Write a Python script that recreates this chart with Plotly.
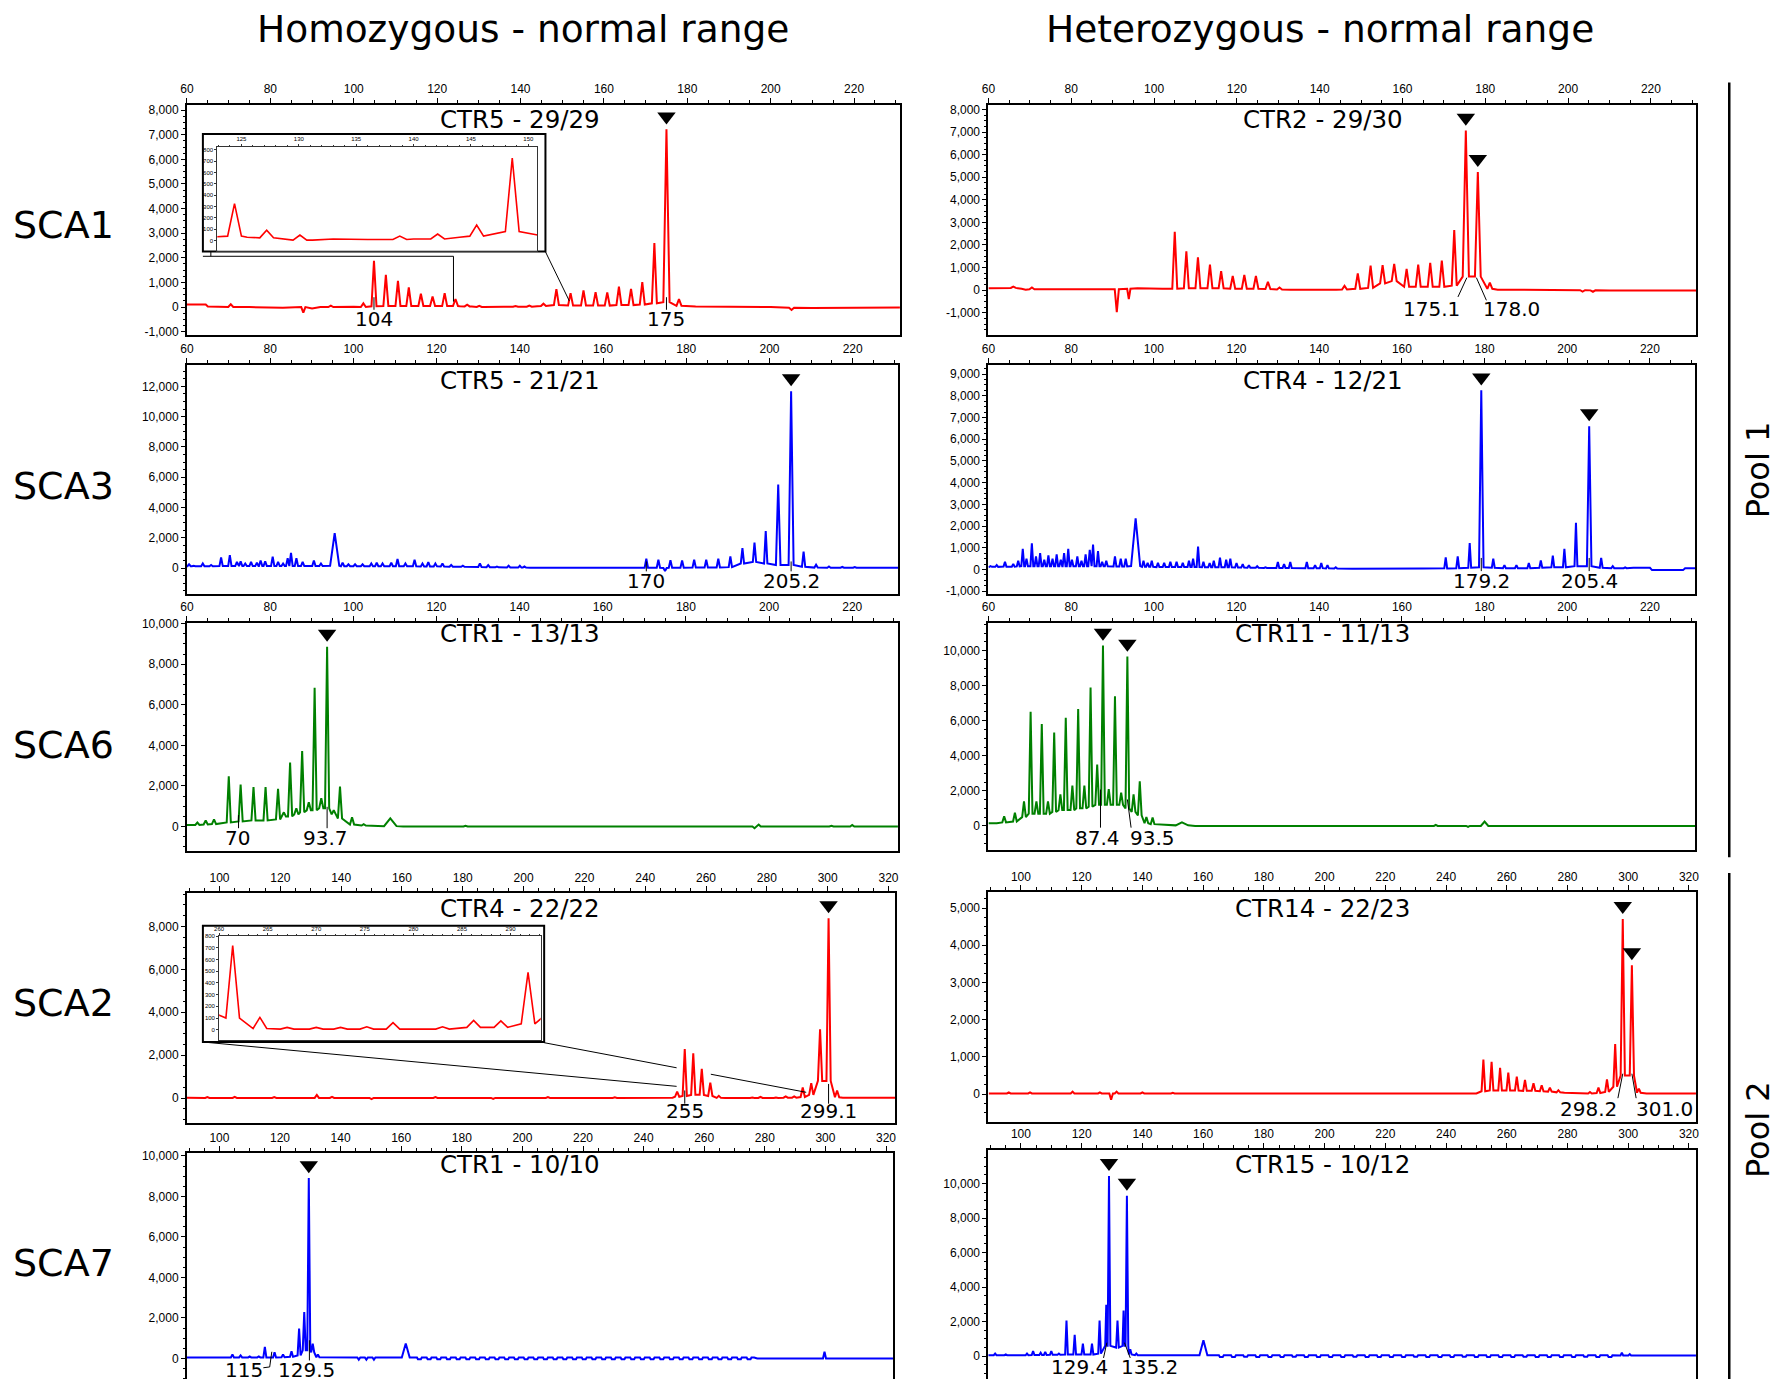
import plotly.graph_objects as go

W, H = 1777, 1384
def fx(p): return p / W
def fy(p): return 1 - p / H

RED, BLUE, GREEN = '#ff0000', '#0000ff', '#008000'

# ------------------------------------------------------------------ DATA
col_titles = ["Homozygous - normal range", "Heterozygous - normal range"]
loci = ["SCA1", "SCA3", "SCA6", "SCA2", "SCA7"]
pools = ["Pool 1", "Pool 2"]

# SCA1 homozygous  CTR5 - 29/29
sca1_hom_pos = [70.5, 87.9, 94.5, 102.3, 104.85, 107.7, 110.6, 113.2, 116.1, 118.9, 121.8, 124.4, 127.2, 130.1,
                138.8, 142.1, 145.5, 148.6, 152.0, 155.1, 158.0, 160.8, 163.6, 166.5, 169.2, 172.1, 175.0, 178.0, 205.0]
sca1_hom_rfu = [110, -230, 60, 150, 1883, 1305, 1063, 794, 538, 430, 565, 326, 93, 49,
                40, 58, 137, 727, 565, 672, 605, 592, 834, 740, 1009, 2596, 7222, 323, -120]
sca1_hom_floor = [0, 0, 0, 0, 30, 40, 40, 40, 40, 40, 40, 40, 25, 5,
                  10, 15, 40, 80, 60, 60, 60, 60, 80, 80, 100, 150, 200, 50, -30]
sca1_hom_base_x = [60, 64.5, 65, 75, 83, 90, 92, 100, 122.9, 125.5, 128.3, 131.2, 133, 136, 140, 144, 150.8, 182, 200, 210, 231]
sca1_hom_base_y = [100, 100, 20, 0, -30, -60, 0, 10, 35, 30, 20, 5, 15, 10, 15, 30, 50, 20, 0, -40, -20]

# SCA1 heterozygous  CTR2 - 29/30
sca1_het_pos = [66.0, 70.5, 91.0, 93.9, 105.0, 107.8, 110.6, 113.5, 116.2, 119.0, 121.8, 124.6, 127.5, 130.3, 146.0,
                149.2, 152.3, 155.2, 158.0, 161.0, 163.8, 166.7, 169.5, 172.5, 175.3, 178.2, 181.1, 203.5, 206.0]
sca1_het_rfu = [160, 120, -975, -393, 2589, 1716, 1454, 1134, 843, 625, 669, 625, 364, 116, 190,
                742, 1090, 1105, 1163, 945, 1134, 1207, 1309, 2662, 7069, 5236, 334, -60, -70]
sca1_het_floor = [100, 40, 40, 60, 60, 80, 80, 80, 80, 60, 60, 60, 50, 30, 30,
                  60, 100, 300, 400, 150, 150, 150, 150, 200, 600, 600, 60, 0, -10]
sca1_het_base_x = [60, 64, 68, 69, 88, 96, 102, 133, 144, 183, 200, 209, 210, 231]
sca1_het_base_y = [80, 100, 60, 20, 40, 80, 60, 20, 20, 20, 0, -40, -20, -20]

# SCA3 homozygous  CTR5 - 21/21
sca3_hom_pos = [60.5, 61.6, 63.8, 65.8, 68.2, 70.3, 72.0, 72.9, 74.0, 75.4, 76.8, 77.7, 78.8, 80.6, 81.9, 83.1,
                84.2, 85.0, 86.3, 87.8, 90.5, 92.2, 95.5, 97.4, 98.8, 100.4, 102.2, 104.3, 105.6, 107.0, 109.1,
                110.6, 112.5, 114.7, 116.6, 118.0, 119.7, 121.4, 123.5, 126.3, 130.4, 132.4, 134.5, 137.3, 140.0,
                141.1, 170.4, 173.3, 174.9, 176.2, 179.0, 181.9, 184.8, 187.7, 190.6, 193.5, 196.4, 199.1, 202.1,
                205.2, 208.2, 211.2, 214.3, 217.5, 220.5]
sca3_hom_rfu = [250, 150, 300, 200, 700, 850, 400, 450, 300, 400, 350, 500, 450, 750, 400, 300,
                650, 1000, 650, 400, 500, 300, 2300, 350, 250, 250, 250, 300, 350, 300, 350,
                600, 300, 550, 300, 400, 300, 300, 200, 150, 300, 200, 100, 150, 150,
                100, 611, 545, -200, 524, 502, 545, 545, 611, 764, 1309, 1680, 2444, 5520,
                11674, 1091, 218, 100, 80, 70]
sca3_hom_floor = [120, 120, 120, 120, 130, 130, 130, 130, 130, 130, 130, 130, 130, 130, 130, 130,
                  130, 130, 130, 130, 130, 130, 150, 120, 120, 120, 120, 120, 120, 120, 120,
                  120, 120, 120, 110, 110, 110, 100, 90, 80, 70, 60, 50, 40, 30,
                  30, 20, 20, 0, 20, 20, 30, 30, 40, 60, 300, 400, 300, 200,
                  200, 80, 30, 20, 20, 20]
sca3_hom_base_x = [60, 142.5, 169, 222, 231]
sca3_hom_base_y = [120, 20, 20, 20, 20]

# SCA3 heterozygous  CTR4 - 12/21
sca3_het_pos = [60.5, 62.0, 64.0, 66.0, 67.2, 68.3, 69.2, 70.5, 71.5, 72.5, 73.5, 74.5, 75.5, 76.5, 77.5, 78.3,
                79.3, 80.2, 81.5, 82.5, 83.5, 84.5, 85.3, 86.5, 87.5, 88.5, 90.6, 92.0, 93.2, 95.6, 97.5,
                98.5, 99.5, 101.0, 102.5, 104.0, 105.5, 107.0, 108.5, 109.5, 110.7, 112.0, 113.5, 114.5,
                116.0, 117.5, 118.5, 120.0, 121.5, 123.0, 125.0, 127.0, 130.0, 131.5, 133.0, 137.0, 139.0,
                140.5, 142.0, 144.0, 147.0,
                170.6, 173.5, 176.4, 179.2, 182.1, 184.8, 187.7, 190.7, 193.6, 196.5, 199.3, 202.1, 205.3,
                208.2, 211.0, 214.0]
sca3_het_rfu = [150, 200, 350, 250, 400, 950, 500, 1200, 600, 750, 450, 650, 500, 700, 450, 750,
                950, 450, 600, 400, 700, 900, 1150, 850, 350, 400, 600, 500, 500, 2350, 400,
                300, 400, 300, 300, 350, 350, 300, 400, 500, 1050, 350, 300, 400,
                550, 450, 500, 300, 250, 200, 150, 100, 350, 250, 350, 350, 200,
                300, 200, 100, 50,
                562, 607, 1214, 8250, 501, 200, 200, 300, 410, 637, 956, 2150, 6600,
                531, 150, 100]
sca3_het_floor = [120, 120, 130, 130, 140, 150, 150, 150, 150, 150, 150, 150, 150, 150, 150, 150,
                  150, 150, 150, 150, 150, 150, 150, 150, 150, 150, 140, 140, 140, 160, 120,
                  120, 120, 110, 110, 110, 110, 110, 110, 110, 110, 100, 100, 100,
                  100, 100, 100, 90, 90, 80, 80, 70, 70, 70, 70, 60, 60,
                  60, 50, 40, 30,
                  50, 60, 80, 100, 80, 60, 60, 60, 80, 100, 100, 150, 150,
                  80, 60, 60]
sca3_het_base_x = [60, 148, 165, 216, 220, 220.5, 228, 228.5, 231]
sca3_het_base_y = [100, 30, 40, 80, 80, -30, -30, 60, 60]

# SCA6 homozygous  CTR1 - 13/13
sca6_hom_pos = [62.5, 64.5, 66.5, 70.05, 72.9, 76.0, 78.9, 81.9, 83.3, 84.8, 86.3, 87.7, 89.3, 90.7, 92.3, 93.7,
                95.3, 96.8, 99.7, 102.5, 108.9, 127.0, 196.5, 197.5, 215.0, 220.0]
sca6_hom_rfu = [200, 300, 350, 2479, 2074, 1944, 1944, 1863, 700, 3159, 900, 3726, 1200, 6836, 1400, 8861,
                800, 1976, 454, 120, 405, 40, -80, 100, 40, 80]
sca6_hom_floor = [80, 100, 120, 200, 250, 300, 300, 350, 500, 500, 600, 700, 800, 800, 900, 900,
                  600, 400, 100, 50, 20, 0, 0, 0, 0, 0]
sca6_hom_base_x = [60, 61.5, 112, 231]
sca6_hom_base_y = [80, 80, 0, 0]

# SCA6 heterozygous  CTR11 - 11/13
sca6_het_pos = [63.8, 66.4, 68.6, 70.2, 71.6, 72.9, 74.4, 75.9, 77.4, 78.7, 80.3, 81.7, 83.2, 84.7, 86.3, 87.7,
                89.1, 90.6, 92.1, 93.6, 95.1, 96.6, 98.2, 99.7, 106.8, 168.2, 176.0, 180.0]
sca6_het_rfu = [550, 750, 1400, 6510, 1400, 5812, 1400, 5321, 1800, 6170, 2300, 6661, 2300, 7888, 3500, 10284,
                2100, 7397, 1900, 9661, 1800, 2547, 500, 472, 200, 60, -60, 250]
sca6_het_floor = [200, 250, 500, 700, 700, 700, 700, 800, 900, 900, 900, 1000, 1000, 1100, 1200, 1200,
                  1200, 1200, 1200, 1000, 800, 600, 150, 100, 30, 0, 0, 0]
sca6_het_base_x = [60, 62, 110, 231]
sca6_het_base_y = [150, 150, 0, 0]

# SCA2 homozygous  CTR4 - 22/22
sca2_hom_pos = [96, 105, 118, 132, 137, 150, 171, 190, 208, 230, 250.5, 253.0, 255.8, 258.6, 261.4, 264.2,
                267.0, 270.0, 272.5, 275.2, 277.9, 283.0, 286.2, 289.0, 291.8, 294.6, 297.5, 300.3, 303.1]
sca2_hom_rfu = [50, 60, 50, 150, 60, -50, 50, -40, 50, 40, 300, 2285, 2084, 1359, 720, 105,
                20, 20, 20, 25, 60, 25, 80, 75, 490, 700, 3211, 8383, 355]
sca2_hom_floor = [10, 10, 10, 10, 10, 10, 10, 10, 10, 10, 60, 100, 150, 150, 100, 10,
                  5, 5, 5, 5, 5, 5, 20, 20, 50, 150, 800, 800, 40]
sca2_hom_base_x = [89.3, 249, 305, 322.3]
sca2_hom_base_y = [20, 20, 20, 20]

# SCA2 heterozygous  CTR14 - 22/23
sca2_het_pos = [96, 103, 115, 117, 126, 129.7, 131.5, 140, 150, 165, 180, 200, 214, 222, 252.3, 255.0, 257.8,
                260.5, 263.3, 266.0, 268.8, 271.5, 274.2, 277.0, 287.4, 290.2, 293.0, 295.7, 298.2, 301.2, 303.5]
sca2_het_rfu = [50, 50, 40, 70, 50, -150, 70, 50, 40, 40, 40, 40, 40, 40, 932, 870, 710,
                577, 470, 382, 293, 240, 178, 107, 60, 178, 400, 1350, 4707, 3463, 150]
sca2_het_floor = [20, 20, 20, 20, 20, 20, 20, 20, 20, 20, 20, 20, 20, 20, 80, 100, 100,
                  100, 100, 90, 90, 80, 70, 50, 20, 30, 60, 200, 500, 500, 40]
sca2_het_base_x = [89.4, 250, 279, 285, 306, 322.4]
sca2_het_base_y = [20, 20, 40, 20, 20, 20]

# SCA7 homozygous  CTR1 - 10/10
sca7_hom_pos = [98.2, 104.3, 107.0, 110.0, 113.0, 115.0, 118.2, 121.0, 123.8, 126.3, 128.0, 129.5, 130.8, 132.5,
                146.0, 148.5, 151.0, 161.5, 299.7]
sca7_hom_rfu = [80, 200, 150, 100, 100, 572, 300, 200, 350, 1470, 2288, 8905, 735, 200,
                -60, -60, -60, 735, 327]
sca7_hom_floor = [50, 50, 50, 50, 50, 50, 50, 60, 80, 150, 400, 400, 300, 60,
                  50, 50, 50, 50, 0]
sca7_hom_dip_pos = [166.0, 169.2, 172.4, 175.6, 178.8, 182.0, 185.2, 188.4, 191.6, 194.8, 198.0, 201.2, 204.4,
                    207.6, 210.8, 214.0, 217.2, 220.4, 223.6, 226.8, 230.0, 233.2, 236.4, 239.6, 242.8, 246.0,
                    249.2, 252.4, 255.6, 258.8, 262.0, 265.2, 268.4, 271.6, 274.8]
sca7_hom_dip_rfu = [-40, -40, -45, -40, -40, -45, -40, -40, -40, -45, -40, -40, -40,
                    -45, -40, -40, -40, -45, -40, -40, -40, -40, -45, -40, -40, -40,
                    -45, -40, -40, -40, -40, -45, -40, -40, -40]
sca7_hom_base_x = [89.3, 276.5, 277.5, 322.3]
sca7_hom_base_y = [50, 50, 0, 0]

# SCA7 heterozygous  CTR15 - 10/12
sca7_het_pos = [91.5, 95.0, 99.0, 102.0, 104.0, 106.5, 108.0, 110.0, 112.5, 115.0, 117.7, 120.4, 123.4, 125.9,
                128.1, 129.0, 131.8, 133.8, 134.9, 136.0, 138.0, 160.1, 297.9, 300.5]
sca7_het_rfu = [150, 100, 100, 150, 300, 200, 250, 300, 150, 2065, 1243, 727, 727, 2065,
                2983, 10440, 2065, 2639, 9293, 400, 150, 918, 200, 120]
sca7_het_floor = [60, 60, 60, 60, 70, 70, 70, 80, 80, 100, 100, 100, 100, 150,
                  600, 600, 500, 600, 600, 100, 60, 60, 40, 40]
sca7_het_dip_pos = [166, 170, 174, 178, 182, 186, 190, 194, 198, 202, 206, 210, 214, 218, 222, 226, 230,
                    234, 238, 242, 246, 250, 254, 258, 262, 266, 270, 274, 278, 282, 286, 290, 294]
sca7_het_dip_rfu = [-40, -40, -35, -40, -40, -40, -35, -40, -40, -40, -40, -35, -40, -40, -40, -40, -35,
                    -40, -40, -40, -35, -40, -40, -40, -40, -35, -40, -40, -40, -40, -35, -40, -40]
sca7_het_base_x = [89, 305, 322.4]
sca7_het_base_y = [60, 40, 40]

panel_titles = ["CTR5 - 29/29", "CTR2 - 29/30", "CTR5 - 21/21", "CTR4 - 12/21", "CTR1 - 13/13",
                "CTR11 - 11/13", "CTR4 - 22/22", "CTR14 - 22/23", "CTR1 - 10/10", "CTR15 - 10/12"]

# called alleles (peak positions with a marker) and size labels
called = [[175.0], [175.3, 178.2], [205.2], [179.2, 205.3], [93.7], [87.7, 93.6], [300.3], [298.2, 301.2],
          [129.5], [129.0, 134.9]]
allele_text = [["104", "175"], ["175.1", "178.0"], ["170", "205.2"], ["179.2", "205.4"], ["70", "93.7"],
               ["87.4", "93.5"], ["255", "299.1"], ["298.2", "301.0"], ["115", "129.5"], ["129.4", "135.2"]]

# ------------------------------------------------------------------ LAYOUT CONFIG
def build(pos, rfu, floor, bx, by, hw, wide=None, dpos=(), drfu=(), dfloor=0, dw=0.8):
    assert len(pos) == len(rfu) == len(floor)
    assert len(bx) == len(by)
    wide = wide or {}
    pts = list(zip(bx, by))
    for p, r, f in zip(pos, rfu, floor):
        w = wide.get(p, hw)
        pts += [(p - w, f), (p, r), (p + w, f)]
    for p, r in zip(dpos, drfu):
        pts += [(p - dw, dfloor), (p - dw * 0.6, r), (p + dw * 0.6, r), (p + dw, dfloor)]
    pts.sort(key=lambda t: t[0])
    return [t[0] for t in pts], [t[1] for t in pts]

traces_xy = [
    build(sca1_hom_pos, sca1_hom_rfu, sca1_hom_floor, sca1_hom_base_x, sca1_hom_base_y, 0.6, {175.0: 0.75, 87.9: 0.5}),
    build(sca1_het_pos, sca1_het_rfu, sca1_het_floor, sca1_het_base_x, sca1_het_base_y, 0.6,
          {91.0: 0.5, 93.9: 0.4, 175.3: 0.75, 178.2: 0.7}),
    build(sca3_hom_pos, sca3_hom_rfu, sca3_hom_floor, sca3_hom_base_x, sca3_hom_base_y, 0.4,
          {95.5: 1.1, 205.2: 0.6, 202.1: 0.55}),
    build(sca3_het_pos, sca3_het_rfu, sca3_het_floor, sca3_het_base_x, sca3_het_base_y, 0.35,
          {95.6: 1.1, 179.2: 0.55, 205.3: 0.55}),
    build(sca6_hom_pos, sca6_hom_rfu, sca6_hom_floor, sca6_hom_base_x, sca6_hom_base_y, 0.5, {108.9: 1.5}),
    build(sca6_het_pos, sca6_het_rfu, sca6_het_floor, sca6_het_base_x, sca6_het_base_y, 0.45,
          {106.8: 1.5, 180.0: 0.9}),
    build(sca2_hom_pos, sca2_hom_rfu, sca2_hom_floor, sca2_hom_base_x, sca2_hom_base_y, 0.7),
    build(sca2_het_pos, sca2_het_rfu, sca2_het_floor, sca2_het_base_x, sca2_het_base_y, 0.6,
          {298.2: 0.7, 301.2: 0.7}),
    build(sca7_hom_pos, sca7_hom_rfu, sca7_hom_floor, sca7_hom_base_x, sca7_hom_base_y, 0.5, {161.5: 1.3},
          sca7_hom_dip_pos, sca7_hom_dip_rfu, 50, 0.8),
    build(sca7_het_pos, sca7_het_rfu, sca7_het_floor, sca7_het_base_x, sca7_het_base_y, 0.45,
          {128.1: 0.35, 133.8: 0.35, 160.1: 1.3}, sca7_het_dip_pos, sca7_het_dip_rfu, 60, 0.8),
]
peak_tables = [
    (sca1_hom_pos, sca1_hom_rfu), (sca1_het_pos, sca1_het_rfu), (sca3_hom_pos, sca3_hom_rfu),
    (sca3_het_pos, sca3_het_rfu), (sca6_hom_pos, sca6_hom_rfu), (sca6_het_pos, sca6_het_rfu),
    (sca2_hom_pos, sca2_hom_rfu), (sca2_het_pos, sca2_het_rfu), (sca7_hom_pos, sca7_hom_rfu),
    (sca7_het_pos, sca7_het_rfu)]

colors = [RED, RED, BLUE, BLUE, GREEN, GREEN, RED, RED, BLUE, BLUE]
# pixel boxes (left, top, right, bottom)
boxes = [(181, 100, 898, 331.5), (987, 100, 1699, 331.5),
         (181, 362, 896.5, 592.5), (987, 362, 1698, 592.5),
         (181, 621.5, 896, 852), (987, 621.5, 1698, 850.5),
         (181, 894.5, 893.5, 1125.5), (987, 893.5, 1698.5, 1124.5),
         (181, 1156.5, 891, 1384), (987, 1153, 1698.5, 1384)]
xranges = [(60, 231)] * 6 + [(89.3, 322.3)] * 4
yranges = [(-1130, 8200), (-1980, 8190), (-1700, 13400), (-1120, 9410), (-1216, 10050),
           (-1360, 11600), (-1140, 9540), (-735, 5420), (-1015, 10130), (-1320, 11950)]
ydticks = [1000, 1000, 2000, 1000, 2000, 2000, 2000, 1000, 2000, 2000]
title_xy = [(516, 114), (1323, 114), (516, 377), (1323, 377), (516, 633), (1323, 633),
            (516, 909.5), (1323, 909.5), (516, 1168), (1323, 1168)]
label_x = [[104.85, 175.0], [167.1, 186.3], [170.4, 205.2], [179.2, 205.3], [72.2, 93.4],
           [86.3, 99.6], [253.0, 300.3], [287.0, 312.1], [108.1, 128.9], [119.2, 142.5]]
label_shift = [12.4, 19.3, 13.3, 12, 11, 12.5, 12.5, 14.6, 11.3, 11]
connectors = [
    [(104.85, 400, 104.85, -110), (175.0, 400, 175.0, -110)],
    [(175.55, 553, 173.4, -300), (177.85, 553, 180.27, -450)],
    [(170.4, 436, 170.4, -218), (205.2, 436, 205.2, -218)],
    [(179.2, 531, 179.2, -76), (205.3, 531, 205.3, -76)],
    [(72.4, 567, 72.4, -81), (93.7, 972, 93.7, -81)],
    [(87.1, 2075, 87.1, -100), (93.6, 1510, 94.5, -100)],
    [(253.0, 355, 253.0, -262), (300.3, 660, 300.3, -262)],
    [(298.2, 550, 296.6, -107), (301.2, 550, 302.6, -107)],
    [(114.5, -460, 116.6, -420), (116.6, -420, 117.3, 330), (129.7, 899, 129.7, -100)],
    [(128.3, 784, 127.2, -100), (134.1, 784, 136.0, -100)],
]

TICKFONT = dict(family="Liberation Sans, Arial, sans-serif", size=12, color="black")
TXT = "DejaVu Sans, Verdana, sans-serif"

fig = go.Figure()
layout = dict(width=W, height=H, margin=dict(l=0, r=0, t=0, b=0), paper_bgcolor="white",
              plot_bgcolor="white", showlegend=False)
shapes, annotations = [], []

for i in range(10):
    n = i + 1
    xa = "xaxis" if n == 1 else f"xaxis{n}"
    ya = "yaxis" if n == 1 else f"yaxis{n}"
    xr_ = "x" if n == 1 else f"x{n}"
    yr_ = "y" if n == 1 else f"y{n}"
    L, T, R, B = boxes[i]
    x0, x1 = xranges[i]
    y0, y1 = yranges[i]
    dt = ydticks[i]
    xt0 = 60 if x0 < 80 else 100
    layout[xa] = dict(domain=[fx(L), fx(R)], range=[x0, x1], anchor=yr_, side="top",
                      tickmode="linear", tick0=xt0, dtick=20, ticks="outside", ticklen=5, tickwidth=1,
                      tickcolor="black", tickfont=TICKFONT, showline=True, linewidth=2, linecolor="black",
                      mirror=(i < 8), showgrid=False, zeroline=False,
                      minor=dict(ticks="outside", ticklen=3, tickwidth=1, tickcolor="black", dtick=5, tick0=0))
    yv = [v for v in range(-20000, 20001, dt) if y0 <= v <= y1]
    layout[ya] = dict(domain=[fy(B), fy(T)], range=[y0, y1], anchor=xr_, tickmode="array",
                      tickvals=yv, ticktext=[f"{v:,}" for v in yv], ticks="outside", ticklen=4,
                      tickwidth=1, tickcolor="black", tickfont=TICKFONT, showline=True, linewidth=2,
                      linecolor="black", mirror=True, showgrid=False, zeroline=False,
                      minor=dict(ticks="outside", ticklen=2, tickwidth=1, tickcolor="black",
                                 dtick=dt / 4, tick0=0))
    xs, ys = traces_xy[i]
    fig.add_trace(go.Scatter(x=xs, y=ys, mode="lines", line=dict(color=colors[i], width=2),
                             xaxis=xr_, yaxis=yr_, hoverinfo="skip"))
    # called-allele markers
    upp = (y1 - y0) / (B - T)
    ptab = dict(zip(*peak_tables[i]))
    cx = called[i]
    cy = [ptab[c] + 13 * upp for c in cx]
    fig.add_trace(go.Scatter(x=cx, y=cy, mode="markers", xaxis=xr_, yaxis=yr_, cliponaxis=False,
                             marker=dict(symbol="triangle-down", size=16, color="black"), hoverinfo="skip"))
    # size labels
    for t, lx in zip(allele_text[i], label_x[i]):
        annotations.append(dict(x=lx, y=0, xref=xr_, yref=yr_, text=t, showarrow=False,
                                yshift=-label_shift[i], font=dict(family=TXT, size=20, color="black"),
                                xanchor="center", yanchor="middle"))
    for (a, b, c, d) in connectors[i]:
        shapes.append(dict(type="line", xref=xr_, yref=yr_, x0=a, y0=b, x1=c, y1=d,
                           line=dict(color="black", width=1)))
    tx, ty = title_xy[i]
    annotations.append(dict(x=fx(tx), y=fy(ty), xref="paper", yref="paper", text=panel_titles[i],
                            showarrow=False, font=dict(family=TXT, size=24.5, color="black"),
                            xanchor="center", yanchor="middle"))

# ---- insets (zoomed views of SCA1 and SCA2 homozygous traces)
insets = [
    dict(n=11, src=0, box=(211.5, 141.7, 533.5, 246.5), outer=(197, 129, 541.5, 247.5),
         xr=(122.9, 150.8), yr=(-87, 829), t0=125, color=RED),
    dict(n=12, src=6, box=(213.3, 937.7, 536.7, 1042.5), outer=(197, 927, 540.2, 1044.3),
         xr=(260, 293.1), yr=(-90, 800), t0=260, color=RED),
]
SMALL = dict(family="Liberation Sans, Arial, sans-serif", size=6, color="black")
for ins in insets:
    n = ins["n"]
    L, T, R, B = ins["box"]
    layout[f"xaxis{n}"] = dict(domain=[fx(L), fx(R)], range=list(ins["xr"]), anchor=f"y{n}", side="top",
                               tickmode="linear", tick0=ins["t0"], dtick=5, ticks="outside", ticklen=2,
                               tickcolor="#333", tickfont=SMALL, showline=True, linewidth=1, linecolor="#333",
                               mirror=True, showgrid=False, zeroline=False,
                               minor=dict(ticks="outside", ticklen=1, dtick=1, tickcolor="#333"))
    layout[f"yaxis{n}"] = dict(domain=[fy(B), fy(T)], range=list(ins["yr"]), anchor=f"x{n}",
                               tickmode="linear", tick0=0, dtick=100, ticks="outside", ticklen=2,
                               tickcolor="#333", tickfont=SMALL, showline=True, linewidth=1, linecolor="#333",
                               mirror=True, showgrid=False, zeroline=False)
    xs, ys = traces_xy[ins["src"]]
    fig.add_trace(go.Scatter(x=xs, y=ys, mode="lines", line=dict(color=ins["color"], width=1.6),
                             xaxis=f"x{n}", yaxis=f"y{n}", hoverinfo="skip"))
    oL, oT, oR, oB = ins["outer"]
    shapes.append(dict(type="rect", xref="paper", yref="paper", x0=fx(oL), x1=fx(oR), y0=fy(oB), y1=fy(oT),
                       line=dict(color="black", width=2), layer="below"))

def pline(xa, ya, xb, yb, w=1):
    shapes.append(dict(type="line", xref="paper", yref="paper", x0=fx(xa), y0=fy(ya), x1=fx(xb), y1=fy(yb),
                       line=dict(color="black", width=w)))

# inset pointer lines
pline(197, 252.3, 449, 252.3)
pline(205, 247.5, 205, 252.3)
pline(449, 252.3, 449, 298)
pline(541.3, 247.3, 565.5, 297.3)
pline(197, 1044.3, 673.4, 1089)
pline(540.2, 1045, 673.4, 1070.3)
pline(707.8, 1076.8, 803.7, 1095)

# pool brackets
pline(1732, 77, 1732, 858, 2.5)
pline(1732, 874, 1732, 1384, 2.5)

# column titles, locus labels, pool labels
for t, cx in zip(col_titles, [519, 1320]):
    annotations.append(dict(x=fx(cx), y=fy(23), xref="paper", yref="paper", text=t, showarrow=False,
                            font=dict(family=TXT, size=37.5, color="black"), xanchor="center", yanchor="middle"))
for t, cy in zip(loci, [221, 484, 745, 1005, 1267]):
    annotations.append(dict(x=fx(57), y=fy(cy), xref="paper", yref="paper", text=t, showarrow=False,
                            font=dict(family=TXT, size=38, color="black"), xanchor="center", yanchor="middle"))
for t, cy in zip(pools, [468, 1133]):
    annotations.append(dict(x=fx(1761), y=fy(cy), xref="paper", yref="paper", text=t, showarrow=False,
                            textangle=-90, font=dict(family=TXT, size=32, color="black"),
                            xanchor="center", yanchor="middle"))

layout["shapes"] = shapes
layout["annotations"] = annotations
fig.update_layout(**layout)
fig.write_html("out.html", config={"displayModeBar": False},
               post_script="document.body.style.margin='0';document.body.style.overflow='hidden';")
